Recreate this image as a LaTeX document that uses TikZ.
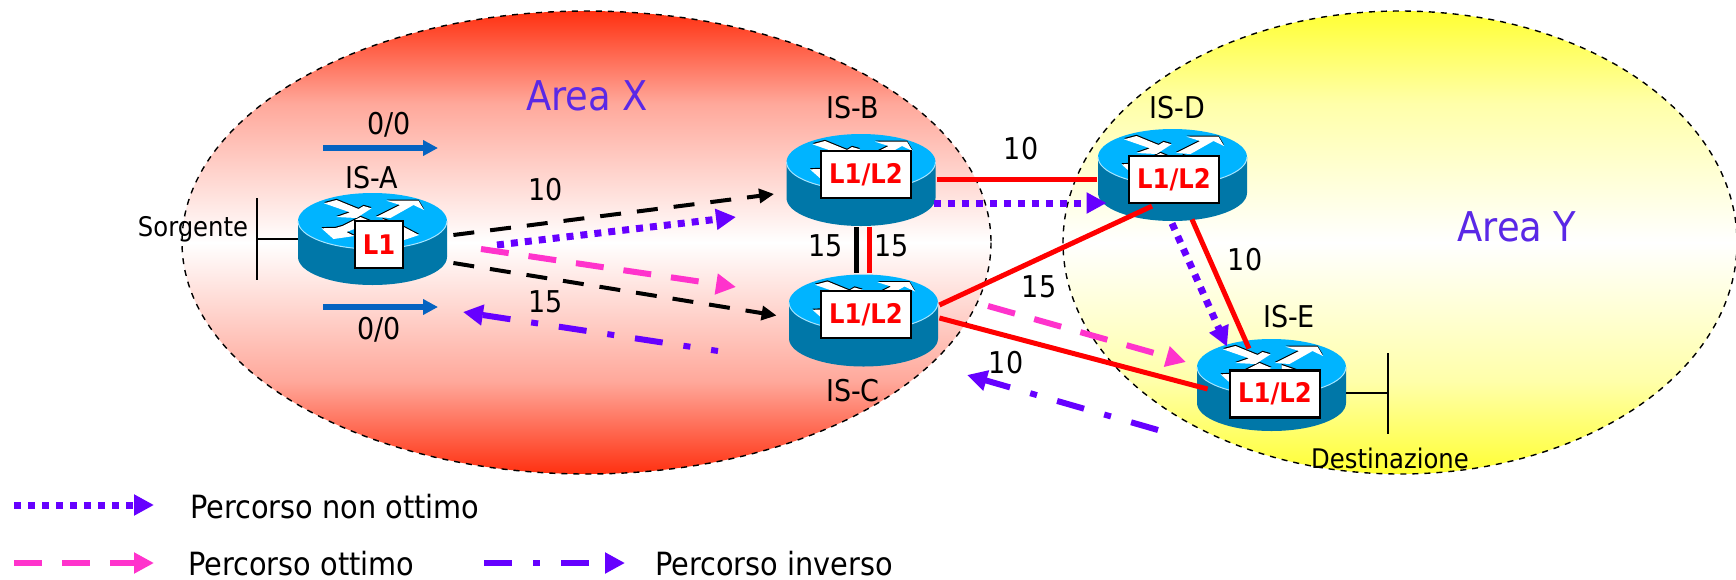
\documentclass[tikz,border=0pt]{standalone}
\usepackage{fontspec}
\setmainfont{DejaVu Sans Condensed}
\usetikzlibrary{arrows.meta, calc}
\definecolor{areaRed}{HTML}{FF3010}
\definecolor{areaYellow}{HTML}{FFFF33}
\definecolor{areaText}{HTML}{5A28E6}
\definecolor{routerTop}{HTML}{00B4FF}
\definecolor{routerSide}{HTML}{0077A8}
\definecolor{linkBlue}{HTML}{0563C1}
\definecolor{pathPurple}{HTML}{6600FF}
\definecolor{pathPink}{HTML}{FF33CC}
\definecolor{linkRed}{HTML}{FF0000}
\pgfdeclareverticalshading{shadeX}{100bp}{color(0bp)=(areaRed); color(25bp)=(areaRed);
  color(35bp)=(areaRed!42!white); color(50bp)=(white); color(65bp)=(areaRed!42!white);
  color(75bp)=(areaRed); color(100bp)=(areaRed)}
\pgfdeclareverticalshading{shadeY}{100bp}{color(0bp)=(areaYellow); color(25bp)=(areaYellow);
  color(35bp)=(areaYellow!42!white); color(50bp)=(white); color(65bp)=(areaYellow!42!white);
  color(75bp)=(areaYellow); color(100bp)=(areaYellow)}
\tikzset{
  areaEll/.style={black, dashed, line width=0.7pt},
  routerHit/.style={rectangle, minimum width=74.5pt, minimum height=46pt, inner sep=0pt},
  tagBox/.style={rectangle, draw=black, fill=white, line width=1.1pt, inner sep=0pt,
                 minimum height=23.5pt, text=linkRed, font=\bfseries\fontsize{13.5}{14}\selectfont},
  lblA/.style={font=\fontsize{15}{17}\selectfont, inner sep=0pt},
  lblB/.style={font=\fontsize{16}{18}\selectfont, inner sep=0pt, anchor=west},
  lblC/.style={font=\fontsize{13.5}{15}\selectfont, inner sep=0pt},
  lblArea/.style={font=\fontsize{20.5}{22}\selectfont, text=areaText, inner sep=0pt},
  arrowK/.style={-{Triangle[length=7.5pt,width=7pt]}, black, line width=2pt,
                 dash pattern=on 10.5pt off 8pt},
  arrowN/.style={-{Triangle[length=10pt,width=10pt]}, pathPurple, line width=3.5pt,
                 dash pattern=on 3.5pt off 3.5pt},
  arrowO/.style={-{Triangle[length=10pt,width=10pt]}, pathPink, line width=3pt,
                 dash pattern=on 14pt off 10pt},
  arrowI/.style={-{Triangle[length=10pt,width=10pt]}, pathPurple, line width=3pt,
                 dash pattern=on 14pt off 10.5pt on 3.5pt off 10.5pt},
  arrowB/.style={-{Triangle[length=7.5pt,width=7.5pt]}, linkBlue, line width=2.8pt},
  linkR/.style={linkRed, line width=2.5pt},
  linkK/.style={black, line width=2.5pt},
  lanBar/.style={black, line width=1pt},
  router/.pic={
    \fill[routerSide] (-74.5,-18) -- (-74.5,18) arc[start angle=180, end angle=0, x radius=74.5, y radius=28]
      -- (74.5,-18) -- cycle;
    \fill[routerTop] (0,-18) ellipse[x radius=74.5, y radius=28];
    \draw[white!65!routerTop, line width=0.5pt] (-74.5,-18) arc[start angle=180, end angle=0, x radius=74.5, y radius=28];
    \foreach \c/\d in {black/-1.2, white/0} {
      \begin{scope}[shift={(0,\d)}]
        \fill[\c] (-48.5,-35.7) -- (-36,-39) -- (-14,-30) -- (-9,-33) -- (-1,-30.7) -- (-16,-21) -- (-36,-22) -- (-22.5,-26.7) -- cycle;
        \fill[\c] (3.5,-22) -- (27.5,-34) -- (14,-38.3) -- (46,-38.3) -- (51.5,-29) -- (41,-34) -- (18,-21) -- cycle;
        \fill[\c] (-51,-10.7) -- (-37,-11) -- (-30,-13) -- (-12,-22) -- (0,-17) -- (-26,-7) -- (-18,-3) -- (-39,0) -- cycle;
        \fill[\c] (10,-20) -- (27.5,-14) -- (46.5,-4) -- (31.5,1) -- (10,-8) -- cycle;
      \end{scope}
    }
  },
}
\begin{document}
\begin{tikzpicture}[x=0.5pt, y=-0.5pt]
  \useasboundingbox (0,0) rectangle (1736,579);
  \begin{scope}
    \path[clip] (0,0) rectangle (1736,579);
    \draw[areaEll, shading=shadeX] (586.5,242.5) ellipse[x radius=404.5, y radius=231.5];
    \draw[areaEll, shading=shadeY] (1400,242.5) ellipse[x radius=337, y radius=231.5];
  \end{scope}
  % routers
  \path (372.5,239) pic {router};
  \path (861,180) pic {router};
  \path (863.5,320.5) pic {router};
  \path (1172.5,175) pic {router};
  \path (1271.5,385) pic {router};
  \node[routerHit] (isa) at (372.5,239) {};
  \node[routerHit] (isb) at (861,180) {};
  \node[routerHit] (isc) at (863.5,320.5) {};
  \node[routerHit] (isd) at (1172.5,175) {};
  \node[routerHit] (ise) at (1271.5,385) {};
  \node[tagBox, minimum width=24pt] (taga) at (379,244.5) {L1};
  \node[tagBox, minimum width=45pt] (tagb) at (866,174.5) {L1/L2};
  \node[tagBox, minimum width=45pt] (tagc) at (866,314.5) {L1/L2};
  \node[tagBox, minimum width=45pt] (tagd) at (1174,179.5) {L1/L2};
  \node[tagBox, minimum width=45pt] (tage) at (1275,394) {L1/L2};
  % free ends
  \coordinate (lanA) at (257,239);
  \coordinate (lanE) at (1388,393);
  \draw[lanBar] (isa.west) -- (lanA);
  \draw[lanBar] ($(lanA)+(0,-41)$) -- ($(lanA)+(0,41)$);
  \draw[lanBar] ($(ise.east)+(0,8)$) -- (lanE);
  \draw[lanBar] ($(lanE)+(0,-40)$) -- ($(lanE)+(0,41)$);
  % links
  \draw[linkK] ($(isb.south)+(-5,1)$) -- ($(isc.north)+(-7.5,-1)$);
  \draw[linkR] ($(isb.south)+(8,1)$) -- ($(isc.north)+(5.5,-1)$);
  \draw[linkR] ($(isb.east)+(1,-1)$) -- ($(isd.west)+(-1,4)$);
  \draw[linkR] ($(isc.east)+(1,-15.5)$) -- ($(tagd.south)+(-22,2)$);
  \draw[linkR] ($(isc.east)+(1,-2.5)$) -- ($(ise.west)+(11,4)$);
  \draw[linkR] ($(isd.south)+(19.5,-2)$) -- ($(ise.north)+(-22.5,10)$);
  % paths
  \coordinate (blueTa) at (323,148); \coordinate (blueTb) at (438,148);
  \coordinate (blueBa) at (323,307); \coordinate (blueBb) at (438,307);
  \draw[arrowB] (blueTa) -- (blueTb);
  \draw[arrowB] (blueBa) -- (blueBb);
  \draw[arrowK] ($(isa.east)+(6,-4)$) -- ($(isb.west)+(-12,14)$);
  \draw[arrowK] ($(isa.east)+(6,24)$) -- ($(isc.west)+(-12,-5)$);
  \coordinate (nonA) at (497,245); \coordinate (nonB) at (736,217);
  \draw[arrowN] (nonA) -- (nonB);
  \draw[arrowN] ($(isb.east)+(-2,23)$) -- ($(isd.west)+(9,28)$);
  \draw[arrowN] ($(isd.south)+(-0.5,2)$) -- ($(ise.north)+(-44.5,8)$);
  \coordinate (ottA) at (481,249); \coordinate (ottB) at (736,287);
  \coordinate (ottC) at (988,306); \coordinate (ottD) at (1186,362);
  \draw[arrowO] (ottA) -- (ottB);
  \draw[arrowO] (ottC) -- (ottD);
  \coordinate (invA) at (718,351); \coordinate (invB) at (463,312);
  \coordinate (invC) at (1158,430); \coordinate (invD) at (967,375);
  \draw[arrowI, dash phase=10.5pt] (invA) -- (invB);
  \draw[arrowI] (invC) -- (invD);
  % labels
  \node[lblArea] (areax) at (587,96) {Area X};
  \node[lblArea] (areay) at (1517,227) {Area Y};
  \node[lblA] (nza) at (389,125) {0/0};
  \node[lblA] (nzb) at (379,330) {0/0};
  \node[lblA] (nia) at (372,178) {IS-A};
  \node[lblA] (nib) at (853,108) {IS-B};
  \node[lblA] (nic) at (853,391) {IS-C};
  \node[lblA] (nid) at (1177,108) {IS-D};
  \node[lblA] (nie) at (1289,317) {IS-E};
  \node[lblA] (cab) at (546,190) {10};
  \node[lblA] (cac) at (546,302) {15};
  \node[lblA] (cbl) at (826,246) {15};
  \node[lblA] (cbr) at (892,246) {15};
  \node[lblA] (cbd) at (1021,149) {10};
  \node[lblA] (ccd) at (1039,287) {15};
  \node[lblA] (cce) at (1006,363) {10};
  \node[lblA] (cde) at (1245,260) {10};
  \node[lblC] (src) at (193,229) {Sorgente};
  \node[lblC] (dst) at (1390,458) {Destinazione};
  % legend
  \coordinate (legNa) at (14,505); \coordinate (legNb) at (154,505);
  \coordinate (legOa) at (14,563); \coordinate (legOb) at (154,563);
  \coordinate (legIa) at (484,563); \coordinate (legIb) at (625,563);
  \draw[arrowN] (legNa) -- (legNb);
  \draw[arrowO] (legOa) -- (legOb);
  \draw[arrowI] (legIa) -- (legIb);
  \node[lblB] (txtn) at (190,507) {Percorso non ottimo};
  \node[lblB] (txto) at (188,564) {Percorso ottimo};
  \node[lblB] (txti) at (655,564) {Percorso inverso};
\end{tikzpicture}
\end{document}
